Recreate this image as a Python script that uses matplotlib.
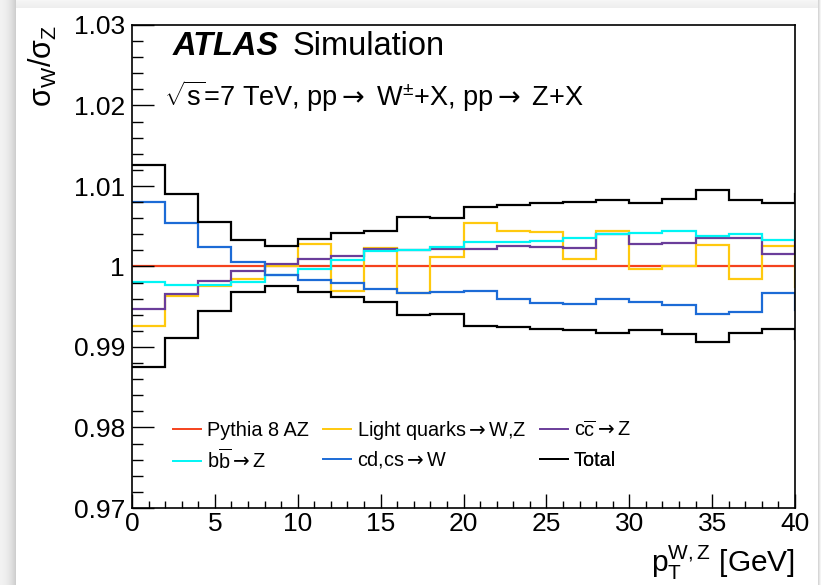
import numpy as np
import matplotlib
matplotlib.use("Agg")
import matplotlib.pyplot as plt
from matplotlib.lines import Line2D
from matplotlib.ticker import MultipleLocator, FixedLocator, FixedFormatter

plt.rcParams['font.family'] = ['Liberation Sans', 'DejaVu Sans']
plt.rcParams['mathtext.fontset'] = 'custom'
plt.rcParams['mathtext.rm'] = 'Liberation Sans'
plt.rcParams['mathtext.it'] = 'Liberation Sans:italic'
plt.rcParams['mathtext.bf'] = 'Liberation Sans:bold'
plt.rcParams['mathtext.sf'] = 'DejaVu Sans'

# pT bin edges [GeV]; the last bin lies just beyond the displayed range
pt_edges = [0, 2, 4, 6, 8, 10, 12, 14, 16, 18, 20, 22, 24, 26, 28, 30,
            32, 34, 36, 38, 40, 42]

pythia_az = [1.0, 1.0, 1.0, 1.0, 1.0, 1.0, 1.0, 1.0, 1.0, 1.0, 1.0,
             1.0, 1.0, 1.0, 1.0, 1.0, 1.0, 1.0, 1.0, 1.0, 1.0]
light_quarks = [0.99267, 0.99631, 0.99752, 0.99847, 1.00005, 1.00280, 0.99700,
                1.00227, 0.99673, 1.00116, 1.00543, 1.00439, 1.00426, 1.00095,
                1.00439, 0.99963, 1.00000, 1.00270, 0.99847, 1.00250, 0.99750]
ccbar_z = [0.99474, 0.99661, 0.99814, 0.99946, 1.00033, 1.00087, 1.00135,
           1.00220, 1.00205, 1.00220, 1.00220, 1.00252, 1.00244, 1.00236,
           1.00398, 1.00282, 1.00294, 1.00360, 1.00352, 1.00157, 1.00320]
bbbar_z = [0.99805, 0.99766, 0.99772, 0.99805, 0.99890, 0.99970, 1.00080,
           1.00190, 1.00207, 1.00248, 1.00310, 1.00302, 1.00315, 1.00352,
           1.00406, 1.00418, 1.00439, 1.00377, 1.00406, 1.00335, 1.00447]
cdcs_w = [1.00800, 1.00543, 1.00240, 1.00050, 0.99900, 0.99836, 0.99793,
          0.99725, 0.99677, 0.99680, 0.99693, 0.99592, 0.99544, 0.99534,
          0.99594, 0.99561, 0.99524, 0.99412, 0.99433, 0.99671, 0.99460]
total_up = [1.01263, 1.00903, 1.00559, 1.00323, 1.00252, 1.00336, 1.00410,
            1.00447, 1.00610, 1.00600, 1.00745, 1.00758, 1.00787, 1.00800,
            1.00830, 1.00790, 1.00840, 1.00953, 1.00830, 1.00787, 1.00900]
total_down = [0.98749, 0.99110, 0.99453, 0.99689, 0.99755, 0.99681, 0.99615,
              0.99565, 0.99400, 0.99412, 0.99267, 0.99246, 0.99226, 0.99210,
              0.99176, 0.99205, 0.99164, 0.99060, 0.99172, 0.99226, 0.99100]

y_ticks = [0.97, 0.98, 0.99, 1.0, 1.01, 1.02, 1.03]
y_tick_labels = ['0.97', '0.98', '0.99', '1', '1.01', '1.02', '1.03']
x_ticks = [0, 5, 10, 15, 20, 25, 30, 35, 40]
x_tick_labels = ['0', '5', '10', '15', '20', '25', '30', '35', '40']

C_RED = '#f5421d'
C_YEL = '#ffc90e'
C_PUR = '#6a3d9a'
C_CYA = '#00f5f5'
C_BLU = '#1c6bd6'
C_BLK = '#000000'

ARROW = r'$\mathsf{\rightarrow}$'

W, H = 821, 585
fig = plt.figure(figsize=(W / 100, H / 100), dpi=100)
fig.patch.set_facecolor('white')

# card-style drop shadow around the canvas
bg = np.ones((H, W, 3))
xs = np.arange(16)
bg[:, :16, :] = (0.95 - 0.14 * (xs / 15.0) ** 2)[None, :, None]
ys = np.arange(8)
top = (0.965 - 0.03 * (ys / 7.0))[:, None, None]
bg[:8, 16:, :] = top
xr = np.arange(W - 818)
bg[:, 818:, :] = (0.84 + 0.12 * (xr / max(len(xr) - 1, 1)))[None, :, None]
fig.figimage(bg, 0, 0, zorder=-10)

left, right, top_f, bottom = 132 / W, 795 / W, 1 - 25 / H, 1 - 508 / H
ax = fig.add_axes([left, bottom, right - left, top_f - bottom])
ax.set_zorder(5)
ax.patch.set_alpha(0.0)

lab_light = 'Light quarks' + ARROW + 'W,Z'
lab_cc = r'c$\mathrm{\overline{c}}$' + ARROW + 'Z'
lab_bb = r'b$\mathrm{\overline{b}}$' + ARROW + 'Z'
lab_cdcs = 'cd,cs' + ARROW + 'W'

series = [
    (pythia_az, C_RED, 'Pythia 8 AZ'),
    (light_quarks, C_YEL, lab_light),
    (ccbar_z, C_PUR, lab_cc),
    (bbbar_z, C_CYA, lab_bb),
    (cdcs_w, C_BLU, lab_cdcs),
]
lw = 1.6
handles = {}
for vals, col, lab in series:
    ax.stairs(vals, pt_edges, baseline=None, color=col, lw=lw)
    handles[lab] = Line2D([], [], color=col, lw=1.4)
ax.stairs(total_up, pt_edges, baseline=None, color=C_BLK, lw=lw)
ax.stairs(total_down, pt_edges, baseline=None, color=C_BLK, lw=lw)
handles['Total'] = Line2D([], [], color=C_BLK, lw=1.4)

ax.set_xlim(0, 40)
ax.set_ylim(0.97, 1.03)

for s in ax.spines.values():
    s.set_linewidth(1.2)
    s.set_color('black')

ax.xaxis.set_major_locator(FixedLocator(x_ticks))
ax.xaxis.set_major_formatter(FixedFormatter(x_tick_labels))
ax.xaxis.set_minor_locator(MultipleLocator(1))
ax.yaxis.set_major_locator(FixedLocator(y_ticks))
ax.yaxis.set_major_formatter(FixedFormatter(y_tick_labels))
ax.yaxis.set_minor_locator(MultipleLocator(0.002))

ax.tick_params(axis='both', which='both', direction='in', top=False, right=False,
               labelsize=19, width=1.0, color='black')
ax.tick_params(axis='y', which='major', length=16, pad=5)
ax.tick_params(axis='y', which='minor', length=8)
ax.tick_params(axis='x', which='major', length=10, pad=3)
ax.tick_params(axis='x', which='minor', length=5)

# axis titles
ax.text(-0.135, 1.0, r'$\mathrm{\sigma_{W}/\sigma_{Z}}$', transform=ax.transAxes,
        rotation=90, rotation_mode='anchor', ha='right', va='center', fontsize=22)
ax.text(1.0, -0.133, r'$\mathrm{p_{T}^{W,Z}}$ [GeV]', transform=ax.transAxes,
        ha='right', va='baseline', fontsize=21.5)

# experiment label
ax.text((173 - 132) / 663, (508 - 55) / 483, 'ATLAS', transform=ax.transAxes,
        fontsize=23.5, fontweight='bold', fontstyle='italic', va='baseline', ha='left')
ax.text((293 - 132) / 663, (508 - 55) / 483, 'Simulation', transform=ax.transAxes,
        fontsize=23.5, va='baseline', ha='left')
ax.text((164 - 132) / 663, (508 - 106) / 483,
        r'$\sqrt{\mathrm{s}}$=7 TeV, pp' + ARROW + r' W$^{\pm}$+X, pp' + ARROW + ' Z+X',
        transform=ax.transAxes, fontsize=19.5, va='baseline', ha='left')

# legend: two rows by three columns, one entry per box so rows line up
col_x = [173, 323, 540]
row_y = [430, 460]
layout = [
    (0, 0, 'Pythia 8 AZ'), (1, 0, lab_light), (2, 0, lab_cc),
    (0, 1, lab_bb), (1, 1, lab_cdcs), (2, 1, 'Total'),
]
for ci, ri, lab in layout:
    leg = ax.legend([handles[lab]], [lab], loc='center left',
                    bbox_to_anchor=((col_x[ci] - 132) / 663, (508 - row_y[ri]) / 483),
                    frameon=False, fontsize=14.3, handlelength=1.4,
                    handletextpad=0.3, borderpad=0, borderaxespad=0)
    ax.add_artist(leg)

fig.savefig('out.png', dpi=100)
